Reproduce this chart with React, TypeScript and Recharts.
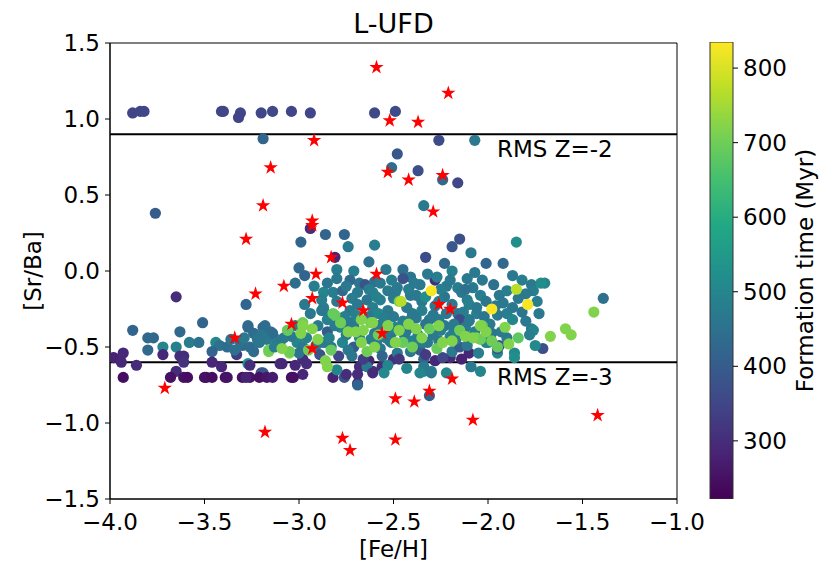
import React from 'react';
import {
  ScatterChart,
  Scatter,
  XAxis,
  YAxis,
  ZAxis,
  ReferenceLine,
  ReferenceArea,
  BarChart,
  Bar,
} from 'recharts';

/* ------------------------------------------------------------------ */
/*  data: [Fe/H], [Sr/Ba], formation time (Myr)                        */
/* ------------------------------------------------------------------ */

type Pt = [number, number, number];

const xTicks = [-4, -3.5, -3, -2.5, -2, -1.5, -1];
const yTicks = [-1.5, -1, -0.5, 0, 0.5, 1, 1.5];
const cbTicks = [300, 400, 500, 600, 700, 800];
const cbRange: [number, number] = [222, 835];
const rmsLevels = [
  { y: 0.9, label: 'RMS Z=-2' },
  { y: -0.6, label: 'RMS Z=-3' },
];

const upperRow: Pt[] = [
  [-3.88, 1.04, 345], [-3.84, 1.05, 350], [-3.82, 1.05, 350], [-3.41, 1.05, 345],
  [-3.40, 1.05, 350], [-3.31, 1.04, 350], [-3.32, 1.01, 345], [-3.20, 1.04, 350],
  [-3.14, 1.05, 355], [-3.04, 1.05, 350], [-2.94, 1.04, 350], [-2.60, 1.04, 355],
  [-2.49, 1.05, 360],
];

const upperScatter: Pt[] = [
  [-3.19, 0.87, 420], [-2.26, 0.86, 360], [-2.07, 0.86, 470], [-2.48, 0.77, 390],
  [-2.51, 0.68, 440], [-2.37, 0.66, 370], [-2.24, 0.60, 430], [-2.16, 0.58, 350],
  [-2.34, 0.43, 470], [-3.76, 0.38, 400], [-2.94, 0.28, 300], [-2.86, 0.24, 420],
  [-2.76, 0.24, 420], [-2.74, 0.16, 470], [-2.99, 0.19, 420], [-2.60, 0.17, 480],
  [-2.15, 0.21, 370], [-2.19, 0.16, 390], [-1.85, 0.19, 520], [-2.09, 0.12, 470],
  [-2.33, 0.09, 360], [-2.81, 0.09, 290], [-2.63, 0.06, 450], [-2.23, 0.05, 430],
  [-2.01, 0.05, 420], [-1.92, 0.05, 430],
];

const metalPoorBand: Pt[] = [
  [-3.65, -0.17, 300], [-3.28, -0.22, 420], [-3.88, -0.39, 420], [-3.80, -0.44, 430],
  [-3.77, -0.44, 430], [-3.80, -0.52, 430], [-3.72, -0.50, 500], [-3.63, -0.40, 430],
  [-3.65, -0.50, 490], [-3.51, -0.34, 420], [-3.58, -0.47, 480], [-3.53, -0.47, 450],
  [-3.44, -0.47, 500], [-3.42, -0.49, 450], [-3.38, -0.50, 440], [-3.27, -0.37, 420],
  [-3.24, -0.41, 440], [-3.19, -0.37, 430], [-3.15, -0.40, 450], [-3.30, -0.49, 440],
  [-3.22, -0.45, 460], [-3.17, -0.45, 470], [-3.16, -0.53, 710], [-3.12, -0.45, 480],
  [-3.06, -0.39, 690], [-3.05, -0.54, 720], [-3.46, -0.53, 420], [-3.33, -0.55, 330],
  [-3.31, -0.47, 450], [-3.26, -0.50, 440], [-3.21, -0.47, 460], [-3.16, -0.52, 700],
  [-3.10, -0.47, 470], [-3.14, -0.41, 440],
];

const purpleBand: Pt[] = [
  [-3.63, -0.56, 300], [-3.61, -0.56, 300], [-3.72, -0.55, 290], [-3.93, -0.54, 290],
  [-3.98, -0.57, 280], [-3.94, -0.60, 290], [-3.86, -0.62, 300], [-3.65, -0.66, 300],
  [-3.61, -0.60, 310], [-3.46, -0.60, 290], [-3.41, -0.63, 290], [-3.27, -0.61, 520],
  [-3.19, -0.67, 400], [-3.10, -0.61, 300], [-3.26, -0.62, 300], [-3.09, -0.61, 290],
  [-3.20, -0.67, 380], [-2.96, -0.61, 300], [-2.98, -0.58, 300], [-3.02, -0.62, 290],
  [-2.63, -0.59, 290], [-2.50, -0.58, 300], [-2.28, -0.59, 290], [-2.20, -0.57, 300],
];

const bottomRow: Pt[] = [
  [-3.93, -0.70, 245], [-3.68, -0.70, 250], [-3.61, -0.70, 250], [-3.59, -0.70, 245],
  [-3.50, -0.70, 250], [-3.49, -0.70, 250], [-3.46, -0.70, 245], [-3.39, -0.70, 250],
  [-3.38, -0.70, 255], [-3.30, -0.70, 250], [-3.26, -0.70, 255], [-3.21, -0.70, 250],
  [-3.17, -0.70, 260], [-3.14, -0.70, 270], [-3.04, -0.70, 245], [-3.28, -0.70, 280],
  [-2.98, -0.68, 290], [-2.82, -0.70, 280], [-2.76, -0.70, 380], [-2.69, -0.74, 290],
  [-2.61, -0.66, 300], [-2.68, -0.63, 300], [-3.03, -0.70, 250], [-2.75, -0.68, 300],
  [-2.69, -0.68, 300], [-2.69, -0.75, 420], [-2.56, -0.63, 300],
];

const cloudUpper: Pt[] = [
  [-3.00, 0.02, 430], [-2.80, 0.01, 480], [-2.71, 0.00, 480], [-2.54, 0.01, 470],
  [-2.97, -0.03, 420], [-3.02, -0.08, 440], [-2.80, -0.05, 470], [-2.73, -0.06, 430],
  [-2.68, -0.08, 460], [-2.65, -0.09, 380], [-2.45, 0.01, 450], [-2.19, 0.00, 490],
  [-2.07, -0.01, 470], [-1.87, -0.03, 470], [-2.41, -0.04, 460], [-2.28, -0.06, 300],
  [-2.11, -0.05, 470], [-1.82, -0.06, 480], [-1.70, -0.08, 500], [-2.45, -0.05, 380],
  [-2.36, -0.09, 470], [-2.16, -0.11, 480], [-2.08, -0.11, 470], [-1.97, -0.09, 450],
  [-1.77, -0.09, 470], [-2.49, -0.14, 480], [-2.41, -0.16, 470], [-2.23, -0.17, 460],
  [-2.14, -0.14, 470], [-2.04, -0.16, 480], [-1.94, -0.16, 470], [-1.76, -0.13, 480],
  [-2.35, -0.20, 470], [-2.11, -0.19, 480], [-2.01, -0.20, 460], [-1.92, -0.21, 470],
  [-1.87, -0.24, 470], [-1.82, -0.27, 460], [-2.40, -0.28, 470], [-2.16, -0.28, 460],
  [-1.72, -0.08, 520], [-1.39, -0.18, 450], [-2.87, -0.14, 500], [-2.82, -0.14, 480],
  [-2.77, -0.13, 430], [-2.69, -0.14, 470], [-2.61, -0.14, 500], [-2.53, -0.13, 470],
  [-2.48, -0.11, 470], [-2.88, -0.19, 480], [-2.80, -0.20, 470], [-2.72, -0.18, 480],
  [-2.64, -0.19, 460], [-2.57, -0.19, 480], [-2.50, -0.18, 470], [-2.87, -0.24, 480],
  [-2.73, -0.26, 470], [-2.61, -0.24, 480], [-2.53, -0.26, 470], [-2.60, -0.07, 450],
  [-2.27, -0.04, 480], [-2.22, -0.10, 470], [-2.12, -0.12, 450], [-2.59, -0.17, 490],
  [-2.42, -0.12, 480], [-2.38, -0.16, 470], [-2.33, -0.17, 520], [-2.26, -0.20, 480],
  [-2.19, -0.22, 470], [-2.10, -0.22, 490], [-2.87, -0.26, 480], [-2.69, -0.22, 470],
  [-2.58, -0.28, 500], [-2.43, -0.24, 470], [-2.35, -0.26, 490], [-2.29, -0.29, 470],
  [-2.06, -0.28, 480], [-1.95, -0.29, 470], [-2.97, -0.22, 470], [-2.92, -0.10, 480],
  [-2.85, -0.08, 460], [-2.75, -0.10, 470], [-2.63, -0.12, 480], [-2.57, -0.08, 470],
  [-2.51, -0.06, 480], [-2.39, -0.08, 470], [-2.32, -0.02, 470], [-2.25, -0.12, 480],
  [-2.20, -0.06, 470], [-2.03, -0.06, 470], [-1.90, -0.13, 480], [-1.80, -0.15, 470],
  [-1.84, -0.18, 470], [-1.74, -0.20, 480], [-1.73, -0.28, 470], [-2.28, -0.23, 470],
  [-2.13, -0.27, 480], [-2.06, -0.24, 470], [-1.96, -0.23, 470], [-1.90, -0.28, 480],
];

const cloudLower: Pt[] = [
  [-2.85, -0.32, 490], [-3.27, -0.36, 430], [-3.18, -0.36, 440], [-2.26, -0.32, 470],
  [-2.10, -0.32, 470], [-1.77, -0.38, 470], [-2.15, -0.32, 360], [-1.87, -0.32, 500],
  [-1.71, -0.51, 370], [-1.76, -0.39, 500], [-1.78, -0.42, 480], [-1.75, -0.49, 510],
  [-1.86, -0.54, 510], [-1.86, -0.57, 520], [-1.98, -0.41, 460], [-1.95, -0.54, 500],
  [-2.01, -0.47, 490], [-1.94, -0.49, 380], [-2.04, -0.66, 500], [-2.10, -0.54, 290],
  [-1.95, -0.51, 360], [-2.88, -0.26, 470], [-2.85, -0.40, 400], [-2.78, -0.37, 500],
  [-2.71, -0.36, 470], [-2.60, -0.41, 470], [-2.51, -0.41, 460], [-3.01, -0.47, 500],
  [-2.87, -0.47, 470], [-2.77, -0.47, 500], [-2.71, -0.50, 400], [-2.57, -0.51, 470],
  [-2.51, -0.47, 500], [-2.48, -0.54, 470], [-2.80, -0.65, 500], [-2.53, -0.62, 500],
  [-2.55, -0.67, 510], [-2.41, -0.32, 470], [-2.23, -0.36, 470], [-2.10, -0.33, 470],
  [-2.52, -0.46, 470], [-2.41, -0.53, 470], [-2.36, -0.52, 400], [-2.32, -0.47, 470],
  [-2.19, -0.53, 470], [-2.15, -0.50, 400], [-2.11, -0.49, 470], [-2.05, -0.54, 480],
  [-2.00, -0.47, 500], [-1.90, -0.44, 470], [-2.24, -0.57, 350], [-2.14, -0.58, 280],
  [-2.34, -0.58, 420], [-2.43, -0.64, 500], [-2.34, -0.66, 510], [-2.30, -0.66, 500],
  [-2.31, -0.82, 410], [-2.73, -0.34, 470], [-2.52, -0.39, 470], [-2.43, -0.39, 460],
  [-2.31, -0.32, 470], [-2.18, -0.39, 470], [-2.59, -0.47, 470], [-2.35, -0.47, 470],
  [-2.26, -0.46, 470], [-2.17, -0.45, 470], [-3.04, -0.43, 470], [-2.98, -0.50, 470],
  [-2.83, -0.50, 470], [-2.74, -0.52, 470], [-2.64, -0.63, 470], [-2.34, -0.63, 470],
  [-2.09, -0.63, 470], [-2.61, -0.67, 300], [-2.36, -0.67, 500], [-2.30, -0.67, 470],
  [-2.22, -0.67, 500],
];

const cloudFill: Pt[] = [
  [-3.36, -0.45, 460], [-3.34, -0.52, 450], [-3.29, -0.44, 470], [-3.24, -0.53, 440],
  [-3.20, -0.42, 460], [-3.13, -0.50, 480], [-3.08, -0.44, 470], [-3.02, -0.36, 480],
  [-3.00, -0.54, 460], [-2.96, -0.44, 490], [-2.94, -0.28, 470], [-2.91, -0.49, 480],
  [-2.90, -0.36, 470], [-2.89, -0.55, 380], [-2.84, -0.44, 490], [-2.81, -0.36, 470],
  [-2.79, -0.56, 350], [-2.76, -0.30, 480], [-2.75, -0.42, 470], [-2.72, -0.56, 460],
  [-2.70, -0.29, 490], [-2.68, -0.44, 500], [-2.66, -0.58, 330], [-2.63, -0.30, 470],
  [-2.62, -0.45, 480], [-2.58, -0.36, 470], [-2.56, -0.56, 420], [-2.55, -0.31, 480],
  [-2.54, -0.44, 470], [-2.50, -0.30, 470], [-2.49, -0.37, 500], [-2.47, -0.58, 320],
  [-2.45, -0.33, 480], [-2.44, -0.43, 470], [-2.40, -0.46, 490], [-2.38, -0.31, 470],
  [-2.37, -0.42, 480], [-2.33, -0.35, 460], [-2.33, -0.55, 330], [-2.29, -0.42, 470],
  [-2.25, -0.39, 480], [-2.22, -0.28, 470], [-2.20, -0.43, 490], [-2.18, -0.35, 470],
  [-2.12, -0.37, 470], [-2.07, -0.40, 480], [-2.02, -0.30, 460], [-1.99, -0.35, 470],
  [-1.93, -0.40, 470], [-1.80, -0.33, 470],
];

const cloudGreen: Pt[] = [
  [-2.98, -0.34, 700], [-2.78, -0.34, 700], [-2.62, -0.34, 700], [-2.03, -0.36, 690],
  [-1.91, -0.37, 720], [-1.44, -0.27, 720], [-1.59, -0.38, 720], [-1.56, -0.42, 720],
  [-1.67, -0.43, 720], [-1.84, -0.44, 680], [-1.89, -0.48, 720], [-2.06, -0.44, 720],
  [-2.04, -0.45, 700], [-3.06, -0.39, 690], [-2.98, -0.36, 720], [-2.99, -0.41, 720],
  [-2.93, -0.38, 720], [-2.81, -0.29, 690], [-2.66, -0.39, 720], [-2.61, -0.34, 720],
  [-3.05, -0.53, 700], [-2.83, -0.52, 690], [-2.64, -0.53, 700], [-2.86, -0.59, 720],
  [-2.85, -0.63, 720], [-2.47, -0.39, 720], [-2.38, -0.38, 720], [-2.31, -0.38, 690],
  [-2.15, -0.39, 700], [-2.04, -0.36, 720], [-2.45, -0.47, 690], [-2.27, -0.51, 690],
  [-2.24, -0.47, 720], [-2.08, -0.44, 720], [-1.95, -0.50, 690], [-2.12, -0.43, 720],
  [-2.67, -0.47, 720], [-2.49, -0.47, 720], [-2.67, -0.32, 720], [-2.90, -0.45, 720],
  [-2.74, -0.40, 720], [-2.58, -0.42, 700], [-2.53, -0.36, 720], [-2.42, -0.35, 720],
  [-2.35, -0.44, 720], [-2.26, -0.36, 720], [-2.19, -0.46, 720], [-2.01, -0.40, 720],
  [-1.98, -0.46, 700], [-3.09, -0.51, 720], [-2.95, -0.52, 700], [-2.70, -0.40, 720],
  [-2.40, -0.50, 700], [-2.60, -0.50, 720], [-2.82, -0.28, 690], [-2.47, -0.20, 700],
  [-2.46, -0.20, 770], [-1.85, -0.12, 770], [-2.30, -0.13, 830], [-1.79, -0.22, 830],
  [-1.98, -0.25, 830],
];

// observed stars (red)
const obsFeH = [
  -2.59, -2.21, -2.52, -2.37, -2.92, -3.15, -2.53, -2.42, -2.24, -3.19, -2.29, -3.28, -2.93,
  -2.93, -2.83, -2.91, -2.59, -3.08, -3.23, -2.93, -2.77, -2.66, -3.04, -2.26, -2.20, -2.56,
  -2.93, -3.34, -3.71, -3.18, -2.77, -2.73, -2.49, -2.49, -2.39, -2.31, -2.19, -2.08, -1.42,
];
const obsSrBa = [
  1.34, 1.17, 0.99, 0.98, 0.86, 0.68, 0.65, 0.6, 0.63, 0.43, 0.39, 0.21, 0.33,
  0.3, 0.09, -0.02, -0.02, -0.1, -0.15, -0.18, -0.21, -0.26, -0.35, -0.22, -0.25, -0.41,
  -0.51, -0.44, -0.77, -1.06, -1.1, -1.18, -0.84, -1.11, -0.86, -0.79, -0.71, -0.98, -0.95,
];

/* ------------------------------------------------------------------ */
/*  viridis                                                           */
/* ------------------------------------------------------------------ */

const VIRIDIS = [
  '#440154', '#482475', '#414487', '#355f8d', '#2a788e', '#21918c',
  '#22a884', '#44bf70', '#7ad151', '#bddf26', '#fde725',
];

function hexToRgb(h: string) {
  return [1, 3, 5].map((i) => parseInt(h.slice(i, i + 2), 16));
}

function viridis(t: number) {
  const f = Math.min(1, Math.max(0, (t - cbRange[0]) / (cbRange[1] - cbRange[0])));
  const pos = f * (VIRIDIS.length - 1);
  const i = Math.min(VIRIDIS.length - 2, Math.floor(pos));
  const k = pos - i;
  const a = hexToRgb(VIRIDIS[i]);
  const b = hexToRgb(VIRIDIS[i + 1]);
  const c = a.map((v, j) => Math.round(v + (b[j] - v) * k));
  return `rgb(${c[0]},${c[1]},${c[2]})`;
}

const fmt = (v: number) => v.toFixed(1).replace('-', '\u2212');

const FONT = "'DejaVu Sans', sans-serif";
const FS = 23;

const dots = [
  ...upperRow, ...upperScatter, ...metalPoorBand, ...purpleBand, ...bottomRow,
  ...cloudUpper, ...cloudLower, ...cloudFill, ...cloudGreen,
].map(([x, y, t]) => ({ x, y, t }));

const stars = obsFeH.map((x, i) => ({ x, y: obsSrBa[i] }));

const cbData = [{ name: 'cb', range: cbRange }];

const Dot = (p: any) => {
  const t = p.payload?.t ?? p.t;
  return <circle cx={p.cx} cy={p.cy} r={5.6} fill={viridis(t)} />;
};

const rmsLabel = (text: string) => (props: any) => {
  const vb = props.viewBox ?? {};
  return (
    <text x={(vb.x ?? 110) + 387} y={(vb.y ?? 0) + 23} fontSize={FS} fill="#000" fontFamily={FONT}>
      {text}
    </text>
  );
};

const titleLabel = (props: any) => {
  const vb = props.viewBox ?? { x: 110, y: 43, width: 567 };
  return (
    <text x={vb.x + vb.width / 2} y={vb.y - 10} textAnchor="middle" fontSize={27} fill="#000" fontFamily={FONT}>
      L-UFD
    </text>
  );
};

const yLabel = (props: any) => {
  const vb = props.viewBox ?? { y: 43, height: 456 };
  const cx = 33;
  const cy = vb.y + vb.height / 2;
  return (
    <text x={cx} y={cy} transform={`rotate(-90 ${cx} ${cy})`} textAnchor="middle"
      dominantBaseline="central" fontSize={FS} fill="#000" fontFamily={FONT}>
      [Sr/Ba]
    </text>
  );
};

const xLabel = (props: any) => {
  const vb = props.viewBox ?? { x: 110, width: 567 };
  return (
    <text x={vb.x + vb.width / 2} y={557} textAnchor="middle" fontSize={FS} fill="#000" fontFamily={FONT}>
      [Fe/H]
    </text>
  );
};

const cbLabel = (props: any) => {
  const vb = props.viewBox ?? { y: 42, height: 457 };
  const cx = 805 - 680;
  const cy = vb.y + vb.height / 2;
  return (
    <text x={cx} y={cy} transform={`rotate(-90 ${cx} ${cy})`} textAnchor="middle"
      dominantBaseline="central" fontSize={FS} fill="#000" fontFamily={FONT}>
      Formation time (Myr)
    </text>
  );
};

export default function App() {
  return (
    <div
      style={{
        position: 'absolute', left: 0, top: 0, width: 831, height: 574,
        overflow: 'hidden', background: '#fff', fontFamily: FONT,
      }}
    >
      <ScatterChart width={831} height={574} margin={{ top: 43, right: 154, bottom: 0, left: 0 }}>
        <XAxis
          type="number" dataKey="x" domain={[-4, -1]} ticks={xTicks} tickFormatter={fmt}
          allowDataOverflow height={75} tickSize={5} tickMargin={10}
          tick={{ fill: '#000', fontSize: FS }} axisLine={{ stroke: '#000' }} tickLine={{ stroke: '#000' }}
          label={xLabel}
        />
        <YAxis
          type="number" dataKey="y" domain={[-1.5, 1.5]} ticks={yTicks} tickFormatter={fmt}
          allowDataOverflow width={110} tickSize={5} tickMargin={5}
          tick={{ fill: '#000', fontSize: FS }} axisLine={{ stroke: '#000' }} tickLine={{ stroke: '#000' }}
          label={yLabel}
        />
        <ZAxis zAxisId={0} range={[95, 95]} />
        <ZAxis zAxisId="star" range={[62, 62]} />
        <Scatter data={dots} shape={Dot} isAnimationActive={false} />
        {rmsLevels.map((r) => (
          <ReferenceLine key={r.label} y={r.y} stroke="#000" strokeWidth={2} label={rmsLabel(r.label)} />
        ))}
        <Scatter data={stars} zAxisId="star" shape="star" fill="#ff0000" isAnimationActive={false} />
        <ReferenceArea
          x1={-4} x2={-1} y1={-1.5} y2={1.5} fill="none" fillOpacity={0} stroke="#000" strokeWidth={1}
          label={titleLabel}
        />
      </ScatterChart>

      <div style={{ position: 'absolute', left: 680, top: 0 }}>
        <BarChart
          width={151} height={574} data={cbData}
          margin={{ top: 42, bottom: 75, left: 30, right: 0 }}
          barCategoryGap={0} barGap={0}
        >
          <defs>
            <linearGradient id="viridisGrad" x1="0" y1="1" x2="0" y2="0">
              {VIRIDIS.map((c, i) => (
                <stop key={c} offset={i / (VIRIDIS.length - 1)} stopColor={c} />
              ))}
            </linearGradient>
          </defs>
          <XAxis dataKey="name" hide />
          <YAxis
            orientation="right" type="number" domain={cbRange} ticks={cbTicks} allowDataOverflow
            width={98} tickSize={5} tickMargin={5} axisLine={false}
            tick={{ fill: '#000', fontSize: FS }} tickLine={{ stroke: '#000' }}
            label={cbLabel}
          />
          <Bar dataKey="range" fill="url(#viridisGrad)" stroke="#333" strokeWidth={1} isAnimationActive={false} />
        </BarChart>
      </div>
    </div>
  );
}
